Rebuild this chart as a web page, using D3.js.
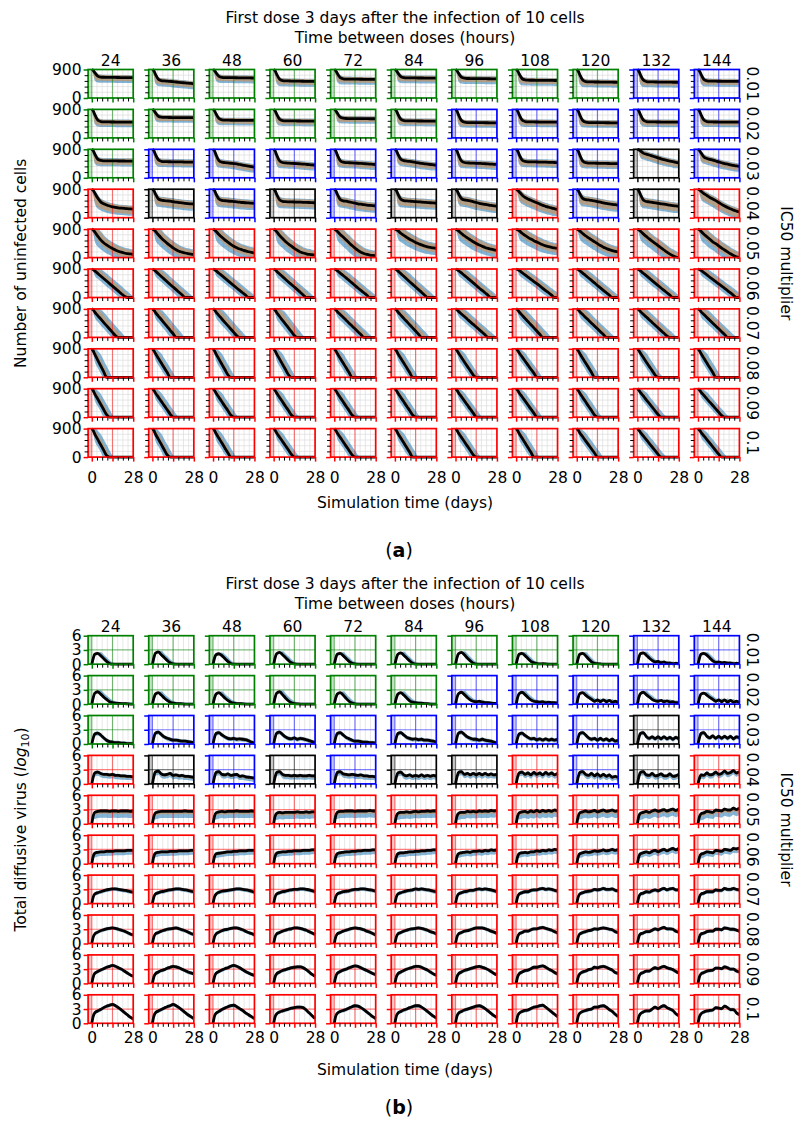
<!DOCTYPE html>
<html>
<head>
<meta charset="utf-8">
<script src="https://cdn.jsdelivr.net/npm/d3@7/dist/d3.min.js"></script>
<style>
  body { margin: 0; background: #fff; }
  svg { display: block; }
  text { font-family: "DejaVu Sans", sans-serif; fill: #000; }
</style>
</head>
<body>
<svg id="fig" width="796" height="1131"></svg>
<script>
// Sampling days of the ensemble summaries
const timeDays = [0, 1, 2, 4, 6, 8, 10, 12, 14, 16, 18, 20, 22, 24, 26, 28];

// Columns: time between doses (hours); rows: IC50 multiplier
const doseIntervals = ["24", "36", "48", "60", "72", "84", "96", "108", "120", "132", "144"];
const ic50Multipliers = ["0.01", "0.02", "0.03", "0.04", "0.05", "0.06", "0.07", "0.08", "0.09", "0.1"];

// Outcome class of each regimen (G cleared, B controlled, K uncertain, R failed)
const outcomeGrid = [
  "GGGGGGGGGBB",
  "GGGGGGBBBBB",
  "GBBBBBBBBKB",
  "RKBKBKKRBKR",
  "RRRRRRRRRRR",
  "RRRRRRRRRRR",
  "RRRRRRRRRRR",
  "RRRRRRRRRRR",
  "RRRRRRRRRRR",
  "RRRRRRRRRRR"
];
const outcomeColour = { G: "#008000", B: "#0000ff", K: "#000000", R: "#ff0000" };

// Mean number of uninfected cells at each sampling day, [IC50 row][dose column]
const uninfectedMean = [
  [
    [900,871,802,692,662,655,653,652,650,649,647,646,645,643,642,640],
    [900,857,756,594,551,540,532,524,516,505,495,486,477,468,459,450],
    [900,869,798,683,653,645,644,642,641,639,638,636,635,633,632,630],
    [900,857,756,594,551,540,538,536,534,532,530,529,527,526,524,522],
    [900,864,779,643,607,598,597,595,594,593,592,591,590,589,587,586],
    [900,868,794,676,644,636,635,634,633,632,631,630,629,628,627,626],
    [900,866,786,659,624,616,615,614,612,611,610,609,608,607,605,604],
    [900,859,765,613,572,562,561,560,559,558,557,556,555,554,553,552],
    [900,853,743,567,520,508,507,506,505,504,502,501,500,499,497,496],
    [900,852,740,565,520,508,507,506,504,503,502,501,500,498,497,496],
    [900,856,753,587,543,532,531,530,529,528,527,526,525,524,523,522]
  ],
  [
    [900,853,742,564,517,505,504,503,502,501,500,499,499,498,497,496],
    [900,870,798,684,654,646,645,644,643,642,642,641,640,640,639,638],
    [900,859,764,611,570,560,559,558,557,556,555,554,553,553,552,551],
    [900,857,755,592,548,538,537,536,535,534,533,532,531,530,529,528],
    [900,865,785,655,621,612,611,610,609,608,608,607,606,605,605,604],
    [900,857,755,592,548,538,537,536,535,534,533,532,531,530,529,528],
    [900,850,734,547,497,485,484,483,482,481,480,479,478,477,477,476],
    [900,853,742,564,517,505,504,503,502,501,500,499,499,498,497,496],
    [900,850,734,547,497,485,484,483,482,481,480,479,478,477,477,476],
    [900,853,742,564,517,505,504,503,502,501,500,499,499,498,497,496],
    [900,852,740,562,515,504,503,502,501,500,499,499,498,497,497,496]
  ],
  [
    [900,856,754,590,547,536,535,534,533,532,531,531,530,529,528,528],
    [900,854,744,569,522,510,508,507,505,503,501,500,498,497,495,494],
    [900,850,732,543,493,480,470,460,450,440,420,400,385,370,355,340],
    [900,848,728,534,483,470,464,458,452,446,440,432,424,416,408,400],
    [900,850,732,543,493,480,475,470,465,460,455,448,440,433,427,420],
    [900,856,752,585,541,530,515,500,485,470,455,443,431,420,410,400],
    [900,848,728,534,483,470,466,462,458,454,450,444,438,432,426,420],
    [900,853,742,564,517,505,503,501,499,497,495,492,489,486,483,480],
    [900,847,726,530,478,465,463,461,459,457,455,453,451,449,447,445],
    [900,885,850,780,745,720,690,660,630,600,575,550,530,510,490,470],
    [900,865,790,660,610,585,560,530,500,475,450,430,410,390,375,360]
  ],
  [
    [900,860,780,620,500,440,400,370,345,325,310,300,292,285,277,270],
    [900,857,756,594,552,540,530,520,505,490,478,466,455,446,438,430],
    [900,856,754,590,547,535,528,520,510,500,490,480,472,465,457,450],
    [900,853,742,564,517,505,502,499,496,493,490,487,484,480,475,470],
    [900,855,748,577,532,520,500,480,460,440,425,410,397,388,379,370],
    [900,856,752,585,541,530,522,514,507,500,493,486,479,472,466,460],
    [900,858,760,602,561,550,530,505,480,455,435,418,402,388,374,360],
    [900,870,820,720,640,590,550,510,470,430,390,360,330,305,282,260],
    [900,860,764,611,570,560,545,530,510,490,470,450,435,422,410,400],
    [900,852,740,560,512,500,485,470,455,440,425,410,395,382,370,360],
    [900,880,840,760,700,640,590,540,480,420,370,320,280,240,210,180]
  ],
  [
    [900,870,810,680,560,470,400,340,290,240,200,170,145,125,115,105],
    [900,875,830,720,620,530,450,380,310,250,200,170,145,125,110,100],
    [900,875,830,730,640,560,490,420,360,310,270,240,210,185,165,150],
    [900,870,820,700,600,510,430,360,290,230,180,145,120,100,90,80],
    [900,875,830,730,650,560,470,380,300,230,170,130,100,80,70,65],
    [900,880,850,770,700,640,580,530,480,440,400,370,340,320,305,290],
    [900,880,845,760,690,620,560,500,445,400,360,320,290,265,245,230],
    [900,880,850,770,700,640,585,535,490,445,405,370,345,320,305,290],
    [900,880,845,760,690,620,560,500,440,380,330,290,250,220,200,180],
    [900,880,840,750,670,590,520,450,380,310,240,170,110,60,20,0],
    [900,880,830,740,660,580,500,440,370,300,240,180,120,70,25,0]
  ],
  [
    [900,880,840,760,680,600,520,440,360,280,200,120,40,0,0,0],
    [900,878,835,750,665,580,495,410,330,250,165,85,0,0,0,0],
    [900,882,845,765,690,610,535,455,380,300,225,150,75,0,0,0],
    [900,878,832,745,660,575,490,410,330,250,165,80,0,0,0,0],
    [900,882,848,770,695,620,540,460,380,300,225,150,75,0,0,0],
    [900,880,840,755,670,585,500,415,330,250,165,80,0,0,0,0],
    [900,882,850,775,700,620,540,460,380,300,225,150,70,0,0,0],
    [900,885,855,785,715,645,575,505,435,365,290,220,150,75,0,0],
    [900,882,848,770,695,615,540,460,380,305,225,150,75,0,0,0],
    [900,882,845,765,690,610,535,455,380,300,225,150,75,0,0,0],
    [900,885,855,785,715,640,570,500,430,360,290,220,145,70,0,0]
  ],
  [
    [900,870,800,690,585,475,370,265,160,55,0,0,0,0,0,0],
    [900,865,790,675,565,450,340,225,115,0,0,0,0,0,0,0],
    [900,870,800,690,580,475,370,265,160,55,0,0,0,0,0,0],
    [900,860,785,660,540,420,300,180,60,0,0,0,0,0,0,0],
    [900,875,815,725,635,545,450,360,270,180,90,0,0,0,0,0],
    [900,872,805,705,600,500,400,300,200,100,0,0,0,0,0,0],
    [900,880,825,740,660,575,490,410,330,245,165,80,0,0,0,0],
    [900,872,805,705,600,500,400,300,200,100,0,0,0,0,0,0],
    [900,875,815,725,630,540,450,360,270,180,90,0,0,0,0,0],
    [900,878,820,730,645,560,470,385,300,215,130,45,0,0,0,0],
    [900,875,815,720,630,540,450,360,270,180,90,0,0,0,0,0]
  ],
  [
    [900,830,730,545,360,180,0,0,0,0,0,0,0,0,0,0],
    [900,840,755,600,450,300,150,0,0,0,0,0,0,0,0,0],
    [900,835,740,575,410,245,80,0,0,0,0,0,0,0,0,0],
    [900,835,740,575,410,245,80,0,0,0,0,0,0,0,0,0],
    [900,840,755,600,450,300,150,0,0,0,0,0,0,0,0,0],
    [900,840,750,600,450,300,150,0,0,0,0,0,0,0,0,0],
    [900,845,765,625,485,345,210,70,0,0,0,0,0,0,0,0],
    [900,850,775,645,515,385,255,130,0,0,0,0,0,0,0,0],
    [900,840,755,600,450,300,150,0,0,0,0,0,0,0,0,0],
    [900,845,765,625,485,345,210,70,0,0,0,0,0,0,0,0],
    [900,840,755,600,450,300,150,0,0,0,0,0,0,0,0,0]
  ],
  [
    [900,835,740,575,410,245,80,0,0,0,0,0,0,0,0,0],
    [900,848,768,635,500,365,235,100,0,0,0,0,0,0,0,0],
    [900,845,765,625,485,345,210,70,0,0,0,0,0,0,0,0],
    [900,845,765,625,485,345,210,70,0,0,0,0,0,0,0,0],
    [900,845,765,625,485,345,210,70,0,0,0,0,0,0,0,0],
    [900,845,765,625,485,345,210,70,0,0,0,0,0,0,0,0],
    [900,850,775,645,515,385,255,130,0,0,0,0,0,0,0,0],
    [900,850,775,645,515,385,255,130,0,0,0,0,0,0,0,0],
    [900,845,765,625,485,345,210,70,0,0,0,0,0,0,0,0],
    [900,855,785,670,550,435,320,200,85,0,0,0,0,0,0,0],
    [900,860,795,690,580,475,370,265,160,55,0,0,0,0,0,0]
  ],
  [
    [900,835,730,560,390,220,50,0,0,0,0,0,0,0,0,0],
    [900,838,735,567,400,233,67,0,0,0,0,0,0,0,0,0],
    [900,842,747,595,442,290,137,0,0,0,0,0,0,0,0,0],
    [900,848,765,629,494,359,223,88,0,0,0,0,0,0,0,0],
    [900,845,762,623,485,346,208,69,0,0,0,0,0,0,0,0],
    [900,840,750,600,450,300,150,0,0,0,0,0,0,0,0,0],
    [900,845,762,623,485,346,208,69,0,0,0,0,0,0,0,0],
    [900,840,750,600,450,300,150,0,0,0,0,0,0,0,0,0],
    [900,850,771,643,514,386,257,129,0,0,0,0,0,0,0,0],
    [900,855,784,668,552,435,319,203,87,0,0,0,0,0,0,0],
    [900,856,785,669,554,438,323,208,92,0,0,0,0,0,0,0]
  ]
];

// Mean total diffusive virus (log10) at each sampling day, [IC50 row][dose column]
const virusLogMean = [
  [
    [0,1.3,2.1,2.3,1.8,1.2,0.6,0.15,0,0,0,0,0,0,0,0],
    [0,1.4,2.3,2.6,2.0,1.4,0.8,0.3,0.05,0,0,0,0,0,0,0],
    [0,1.3,2.0,2.2,1.8,1.2,0.6,0.15,0,0,0,0,0,0,0,0],
    [0,1.4,2.2,2.5,2.0,1.4,0.8,0.3,0.05,0,0,0,0,0,0,0],
    [0,1.3,2.1,2.3,1.8,1.2,0.6,0.2,0.05,0,0,0,0,0,0,0],
    [0,1.3,2.1,2.4,1.9,1.3,0.7,0.2,0,0,0,0,0,0,0,0],
    [0,1.4,2.2,2.5,2.0,1.3,0.7,0.2,0,0,0,0,0,0,0,0],
    [0,1.3,2.1,2.3,1.8,1.2,0.6,0.3,0.1,0.05,0.1,0.05,0,0,0,0],
    [0,1.3,2.1,2.3,1.8,1.1,0.5,0.2,0.1,0.05,0,0,0,0,0,0],
    [0,1.4,2.2,2.4,1.9,1.3,0.8,0.5,0.6,0.3,0.5,0.2,0.3,0.1,0.2,0.05],
    [0,1.3,2.1,2.3,1.9,1.3,0.7,0.4,0.5,0.3,0.4,0.2,0.3,0.1,0.2,0.1]
  ],
  [
    [0,1.4,2.3,2.6,2.1,1.5,1.0,0.5,0.3,0.2,0.15,0.1,0.1,0.05,0,0],
    [0,1.3,2.1,2.4,1.9,1.3,0.8,0.4,0.2,0.1,0.1,0.05,0,0,0,0],
    [0,1.3,2.1,2.4,1.9,1.3,0.8,0.4,0.2,0.1,0.1,0.05,0,0,0,0],
    [0,1.4,2.3,2.6,2.0,1.3,0.7,0.3,0.1,0.05,0,0,0,0,0,0],
    [0,1.3,2.1,2.4,1.9,1.2,0.6,0.2,0.05,0,0,0,0,0,0,0],
    [0,1.3,2.1,2.4,1.9,1.3,0.7,0.4,0.3,0.2,0.2,0.1,0.1,0,0,0],
    [0,1.4,2.2,2.5,2.0,1.4,0.9,0.6,0.5,0.6,0.4,0.3,0.3,0.2,0.15,0.1],
    [0,1.4,2.2,2.5,2.0,1.4,0.9,0.6,0.5,0.4,0.5,0.3,0.4,0.3,0.3,0.2],
    [0,1.4,2.2,2.4,1.9,1.4,1.0,0.6,0.9,0.5,0.9,0.5,0.8,0.4,0.6,0.3],
    [0,1.4,2.2,2.5,2.0,1.5,1.0,0.7,0.6,0.8,0.5,0.7,0.4,0.5,0.3,0.3],
    [0,1.3,2.1,2.3,1.9,1.4,1.0,0.6,0.9,0.5,0.9,0.4,0.8,0.4,0.6,0.3]
  ],
  [
    [0,1.3,2.1,2.3,1.9,1.3,0.8,0.5,0.4,0.3,0.3,0.2,0.2,0.1,0.1,0.05],
    [0,1.4,2.3,2.5,2.0,1.5,1.2,1.0,0.8,0.8,0.7,0.6,0.6,0.5,0.4,0.3],
    [0,1.4,2.2,2.4,1.9,1.5,1.2,1.1,1.2,1.0,1.1,1.0,0.9,0.7,0.4,0.2],
    [0,1.4,2.3,2.5,2.0,1.5,1.2,1.1,1.3,1.0,1.2,1.1,0.9,0.7,0.5,0.3],
    [0,1.4,2.2,2.4,1.9,1.4,1.1,0.8,0.6,0.6,0.5,0.4,0.4,0.3,0.3,0.2],
    [0,1.4,2.2,2.4,1.9,1.4,1.2,1.0,1.1,0.9,1.0,0.8,0.8,0.7,0.6,0.4],
    [0,1.4,2.3,2.5,2.0,1.5,1.2,1.0,1.0,0.8,1.0,0.8,0.7,0.6,0.4,0.2],
    [0,1.3,2.1,2.3,1.8,1.4,1.1,1.2,0.9,1.1,0.8,1.1,0.8,1.0,0.8,1.0],
    [0,1.4,2.2,2.4,1.9,1.3,1.0,1.2,0.8,1.2,0.8,1.1,0.7,1.0,0.6,0.8],
    [0,1.3,2.2,2.4,1.6,1.2,1.5,1.1,1.5,1.1,1.5,1.1,1.4,1.0,1.4,1.1],
    [0,1.3,2.2,2.4,1.6,1.3,1.7,1.2,1.6,1.2,1.6,1.2,1.6,1.1,1.5,1.3]
  ],
  [
    [0,1.5,2.3,2.5,2.2,2.0,2.0,1.9,2.0,1.8,1.8,1.7,1.7,1.6,1.6,1.5],
    [0,1.6,2.5,2.7,2.1,1.9,2.0,2.2,1.8,1.9,1.7,1.8,1.6,1.6,1.5,1.4],
    [0,1.5,2.4,2.6,2.0,1.9,2.1,1.8,1.9,2.0,1.6,1.7,1.5,1.4,1.3,1.2],
    [0,1.5,2.4,2.6,2.0,1.8,1.8,1.7,1.8,1.7,1.8,1.7,1.7,1.8,1.7,1.7],
    [0,1.5,2.4,2.6,2.1,2.0,1.9,2.0,1.9,1.8,1.9,1.7,1.7,1.6,1.6,1.5],
    [0,1.5,2.3,2.5,1.9,1.7,1.9,1.6,1.8,1.6,1.9,1.6,1.8,1.6,1.8,1.6],
    [0,1.5,2.4,2.6,2.0,2.2,1.9,2.2,1.9,2.2,1.9,2.2,1.9,2.1,1.9,2.0],
    [0,1.5,2.3,2.5,2.0,2.3,1.9,2.4,2.0,2.3,1.9,2.4,2.0,2.3,1.9,2.2],
    [0,1.5,2.4,2.6,2.0,1.8,2.2,1.7,2.1,1.6,2.0,1.6,1.9,1.4,1.6,1.3],
    [0,1.5,2.4,2.6,1.9,1.8,2.2,1.7,1.8,2.1,1.7,1.7,2.1,1.6,1.7,2.0],
    [0,1.2,1.9,1.8,2.3,1.9,2.0,2.5,2.0,2.2,2.7,2.2,2.4,2.8,2.3,2.6]
  ],
  [
    [0,1.7,2.4,2.6,2.7,2.7,2.7,2.6,2.7,2.7,2.6,2.7,2.7,2.7,2.6,2.7],
    [0,1.6,2.3,2.5,2.6,2.6,2.6,2.6,2.6,2.6,2.6,2.6,2.7,2.6,2.6,2.6],
    [0,1.6,2.3,2.5,2.6,2.5,2.6,2.6,2.6,2.7,2.6,2.6,2.6,2.6,2.7,2.6],
    [0,1.6,2.2,2.4,2.3,2.4,2.4,2.4,2.4,2.5,2.4,2.4,2.5,2.4,2.5,2.5],
    [0,1.7,2.4,2.6,2.6,2.7,2.7,2.7,2.6,2.7,2.7,2.7,2.7,2.8,2.7,2.7],
    [0,1.6,2.2,2.4,2.4,2.5,2.4,2.5,2.6,2.5,2.6,2.6,2.7,2.6,2.7,2.7],
    [0,1.6,2.2,2.4,2.4,2.6,2.5,2.6,2.5,2.7,2.6,2.7,2.6,2.8,2.7,2.8],
    [0,1.6,2.3,2.5,2.6,2.4,2.7,2.5,2.8,2.5,2.8,2.6,2.8,2.6,2.9,2.7],
    [0,1.6,2.3,2.5,2.7,2.5,2.6,2.8,2.5,2.7,2.9,2.6,2.7,2.9,2.6,2.8],
    [0,1.6,2.2,2.4,2.6,2.4,2.7,2.9,2.6,2.8,3.0,2.7,2.9,3.1,2.8,3.1],
    [0,1.5,2.1,2.3,2.6,2.5,2.4,2.9,2.8,2.7,3.1,2.9,2.9,3.3,3.0,3.3]
  ],
  [
    [0,1.6,2.2,2.4,2.5,2.5,2.6,2.6,2.6,2.7,2.7,2.7,2.7,2.8,2.8,2.8],
    [0,1.6,2.2,2.4,2.5,2.5,2.5,2.6,2.6,2.6,2.7,2.7,2.7,2.7,2.8,2.8],
    [0,1.5,2.1,2.2,2.3,2.4,2.5,2.5,2.6,2.6,2.7,2.7,2.7,2.8,2.8,2.8],
    [0,1.6,2.2,2.4,2.5,2.5,2.6,2.6,2.7,2.7,2.7,2.8,2.8,2.8,2.9,2.9],
    [0,1.5,2.1,2.3,2.4,2.5,2.5,2.6,2.6,2.7,2.7,2.8,2.8,2.8,2.9,2.9],
    [0,1.5,2.1,2.3,2.3,2.4,2.5,2.5,2.6,2.6,2.7,2.7,2.8,2.8,2.9,2.9],
    [0,1.5,2.1,2.3,2.4,2.5,2.4,2.6,2.6,2.7,2.6,2.8,2.7,2.9,2.8,2.9],
    [0,1.5,2.1,2.3,2.4,2.3,2.5,2.5,2.7,2.6,2.8,2.7,2.9,2.8,3.0,2.9],
    [0,1.5,2.1,2.3,2.5,2.4,2.5,2.7,2.6,2.7,2.9,2.7,2.8,3.0,2.8,3.0],
    [0,1.5,2.1,2.3,2.5,2.3,2.6,2.8,2.5,2.8,3.0,2.7,3.0,3.2,2.9,3.2],
    [0,1.4,2.0,2.2,2.5,2.4,2.3,2.8,2.7,2.6,3.0,2.9,2.8,3.2,3.1,3.3]
  ],
  [
    [0,1.4,2.0,2.3,2.5,2.7,2.9,3.0,3.1,3.1,3.0,2.9,2.8,2.7,2.5,2.4],
    [0,1.4,2.0,2.3,2.5,2.6,2.8,2.9,3.0,3.1,3.1,3.0,2.9,2.8,2.6,2.5],
    [0,1.4,2.0,2.4,2.6,2.7,2.8,2.9,3.0,3.1,3.1,3.0,2.9,2.8,2.6,2.4],
    [0,1.4,2.0,2.3,2.5,2.6,2.8,2.9,3.0,3.0,3.1,3.1,3.0,2.9,2.7,2.5],
    [0,1.4,2.0,2.3,2.5,2.6,2.7,2.9,3.0,3.0,3.1,3.1,3.0,2.9,2.8,2.6],
    [0,1.4,2.0,2.3,2.5,2.7,2.8,2.9,3.1,3.0,3.1,3.0,2.9,2.8,2.6,2.5],
    [0,1.4,2.0,2.3,2.5,2.6,2.8,2.8,3.0,3.1,3.0,3.1,3.0,2.9,2.7,2.5],
    [0,1.4,2.0,2.3,2.5,2.5,2.8,2.9,2.9,3.1,3.2,3.0,3.1,3.0,2.8,2.6],
    [0,1.4,2.0,2.3,2.5,2.6,2.7,3.0,2.9,3.0,3.2,3.0,3.0,3.1,2.8,2.7],
    [0,1.4,2.0,2.2,2.5,2.4,2.7,2.9,2.7,3.0,3.2,2.9,3.1,3.2,2.9,2.9],
    [0,1.4,2.0,2.2,2.5,2.5,2.5,2.9,2.8,2.8,3.2,3.0,3.0,3.2,3.0,2.9]
  ],
  [
    [0,1.4,2.0,2.4,2.7,2.9,3.1,3.2,3.3,3.2,3.0,2.8,2.6,2.3,2.0,1.8],
    [0,1.4,2.0,2.3,2.6,2.8,3.0,3.1,3.2,3.3,3.1,2.9,2.7,2.4,2.1,1.9],
    [0,1.4,2.0,2.4,2.7,2.9,3.0,3.2,3.3,3.3,3.1,2.9,2.6,2.3,2.1,1.8],
    [0,1.4,2.0,2.3,2.6,2.8,3.0,3.1,3.3,3.3,3.2,3.0,2.8,2.5,2.2,1.9],
    [0,1.4,2.0,2.3,2.6,2.8,3.0,3.2,3.3,3.2,3.1,2.9,2.6,2.4,2.1,1.8],
    [0,1.4,2.0,2.3,2.6,2.8,3.0,3.1,3.2,3.3,3.2,3.0,2.8,2.5,2.3,2.0],
    [0,1.4,2.0,2.3,2.6,2.7,2.9,3.1,3.3,3.3,3.3,3.1,2.9,2.6,2.4,2.1],
    [0,1.4,2.0,2.3,2.6,2.6,2.9,3.1,3.1,3.3,3.4,3.2,3.0,2.8,2.5,2.2],
    [0,1.4,2.0,2.3,2.5,2.7,2.8,3.1,3.0,3.2,3.3,3.2,3.0,2.9,2.5,2.3],
    [0,1.4,2.0,2.2,2.5,2.5,2.8,3.1,2.9,3.2,3.4,3.1,3.1,3.0,2.6,2.4],
    [0,1.4,2.0,2.2,2.5,2.6,2.6,3.0,3.0,2.9,3.3,3.2,3.0,3.0,2.8,2.6]
  ],
  [
    [0,1.4,2.1,2.5,2.8,3.1,3.4,3.6,3.8,3.6,3.3,3.0,2.6,2.2,1.8,1.5],
    [0,1.4,2.0,2.4,2.7,2.9,3.2,3.4,3.6,3.5,3.3,3.0,2.7,2.4,2.2,2.0],
    [0,1.4,2.1,2.5,2.8,3.1,3.3,3.6,3.8,3.6,3.3,2.9,2.5,2.2,1.9,1.7],
    [0,1.4,2.0,2.4,2.7,2.9,3.1,3.3,3.4,3.5,3.5,3.3,2.9,2.4,1.9,1.5],
    [0,1.4,2.1,2.5,2.8,3.0,3.3,3.5,3.7,3.6,3.3,3.0,2.7,2.4,2.1,1.8],
    [0,1.4,2.0,2.4,2.7,3.0,3.2,3.4,3.6,3.6,3.4,3.1,2.8,2.4,2.0,1.7],
    [0,1.4,2.0,2.4,2.7,2.9,3.1,3.3,3.5,3.6,3.4,3.2,2.9,2.5,2.1,1.8],
    [0,1.4,2.0,2.4,2.7,2.8,3.1,3.4,3.4,3.6,3.7,3.4,3.0,2.7,2.3,2.0],
    [0,1.4,2.0,2.4,2.6,2.9,3.0,3.4,3.3,3.5,3.6,3.4,3.1,2.8,2.3,2.1],
    [0,1.4,2.0,2.3,2.6,2.6,3.0,3.3,3.1,3.4,3.6,3.3,3.1,2.9,2.5,2.2],
    [0,1.4,2.0,2.3,2.6,2.7,2.8,3.2,3.2,3.1,3.5,3.3,3.0,3.0,2.6,2.4]
  ],
  [
    [0,1.5,2.2,2.6,2.9,3.3,3.6,3.8,4.0,3.7,3.3,2.8,2.3,1.8,1.3,0.9],
    [0,1.5,2.2,2.6,2.9,3.2,3.5,3.7,4.0,3.7,3.3,2.8,2.3,1.8,1.4,1.0],
    [0,1.5,2.1,2.5,2.9,3.2,3.5,3.7,3.8,3.5,3.1,2.7,2.2,1.8,1.4,1.0],
    [0,1.4,2.0,2.4,2.6,2.8,3.0,3.2,3.3,3.4,3.4,3.3,2.8,2.2,1.6,1.0],
    [0,1.5,2.1,2.5,2.7,2.9,3.2,3.5,3.7,3.6,3.3,2.9,2.4,1.9,1.4,1.0],
    [0,1.5,2.1,2.5,2.8,3.0,3.3,3.5,3.7,3.7,3.4,3.0,2.5,2.0,1.5,1.1],
    [0,1.5,2.1,2.5,2.8,3.0,3.2,3.4,3.6,3.7,3.5,3.1,2.6,2.1,1.6,1.2],
    [0,1.5,2.1,2.5,2.7,2.8,3.1,3.4,3.5,3.7,3.8,3.4,2.9,2.4,1.9,1.4],
    [0,1.5,2.1,2.5,2.7,2.9,3.0,3.4,3.4,3.6,3.7,3.4,2.9,2.5,1.9,1.4],
    [0,1.4,2.0,2.4,2.6,2.6,3.0,3.4,3.1,3.5,3.7,3.3,3.0,2.7,2.0,1.6],
    [0,1.4,2.0,2.4,2.6,2.7,2.8,3.3,3.2,3.1,3.6,3.3,2.9,2.9,2.2,1.8]
  ]
];

// How far the ensemble spread has opened at each sampling day
const spreadRampCells = [0, 0.4, 0.8, 1, 1, 1, 1, 1, 1, 1, 1, 1, 1, 1, 1, 1];
const spreadRampVirus = [0, 0.5, 1, 1, 1, 1, 1, 1, 1, 1, 1, 1, 1, 1, 1, 1];

// Ensemble ranges per IC50 row: [samples lagging, samples leading, extent above, extent below]
const cellsBlueSpread = [
  [0,1,80,170],[0,1,80,160],[0,1,90,170],[0,1,110,210],[1,1,150,210],
  [3,1,0,90],[3,1,0,90],[2,1,0,60],[2,1,0,60],[2,1,0,60]
];
const cellsOrangeSpread = [
  [0,1,70,110],[0,1,70,110],[0,1,70,120],[0,1,90,150],[1,0,110,130],
  [2,0,0,50],[2,0,0,50],[1,0,0,30],[1,0,0,30],[1,0,0,30]
];
const virusBlueSpread = [
  [1,0,0.25,0.35],[1,0,0.3,0.35],[0,0,0.4,0.5],[0,0,0.35,0.8],[0,0,0.35,1.4],
  [0,0,0.35,0.9],[0,0,0.35,0.45],[0,0,0.35,0.4],[0,0,0.35,0.4],[0,0,0.35,0.4]
];
const virusOrangeSpread = [
  [0,0,0.25,0.3],[0,0,0.25,0.3],[0,0,0.3,0.3],[0,0,0.25,0.4],[0,0,0.3,0.6],
  [0,0,0.25,0.35],[0,0,0.25,0.25],[0,0,0.25,0.25],[0,0,0.25,0.25],[0,0,0.25,0.25]
];

// ---- layout ----
const svg = d3.select("#fig");
const COL_STEP = 60.62, ZERO_X = 91.8, PX_PER_DAY = 1.479, X_START = -2.5;
const PANEL_H = 28.5, ROW_STEP = 39.9;
const minorDays = [3.5, 7, 10.5, 17.5, 21, 24.5];
const gridDays = [3.5, 7, 10.5, 14, 17.5, 21, 24.5];
const FONT = 15.5;

function bounds(mean, spec, ramp, yMax) {
  const [lag, lead, above, below] = spec;
  const n = mean.length;
  return timeDays.map((t, i) => ({
    t,
    hi: Math.min(yMax, mean[Math.max(0, i - lag)] + above * ramp[i]),
    lo: Math.max(0, mean[Math.min(n - 1, i + lead)] - below * ramp[i])
  }));
}

function styleAxis(sel, colour, width) {
  sel.select(".domain").remove();
  sel.selectAll(".tick line").attr("stroke", colour).attr("stroke-width", width);
  sel.attr("font-size", FONT).attr("font-family", "DejaVu Sans");
  sel.selectAll(".tick text").attr("fill", "#000");
}

function drawChart(cfg) {
  const root = svg.append("g");
  const nRows = ic50Multipliers.length;
  const gridTop = cfg.top, gridBottom = cfg.top + (nRows - 1) * ROW_STEP + PANEL_H;
  const midY = (gridTop + gridBottom) / 2;
  const centreX = 405;

  ic50Multipliers.forEach((ic, r) => {
    const top = cfg.top + r * ROW_STEP, bottom = top + PANEL_H;
    const y = d3.scaleLinear().domain([0, cfg.yMax]).range([bottom, top]);

    doseIntervals.forEach((dose, c) => {
      const zx = ZERO_X + c * COL_STEP;
      const x = d3.scaleLinear().domain([X_START, 28])
        .range([zx + X_START * PX_PER_DAY, zx + 28 * PX_PER_DAY]);
      const colour = outcomeColour[outcomeGrid[r][c]];
      const mean = cfg.mean[r][c];
      const g = root.append("g");
      const clipId = `clip-${cfg.key}-${r}-${c}`;
      const x0 = x(X_START), x1 = x(28);

      g.append("clipPath").attr("id", clipId).append("rect")
        .attr("x", x0).attr("y", top).attr("width", x1 - x0).attr("height", PANEL_H);
      g.append("rect").attr("x", x0).attr("y", top).attr("width", x1 - x0)
        .attr("height", PANEL_H).attr("fill", "#fff");

      // light grid
      g.selectAll(".vg").data(gridDays).join("line")
        .attr("x1", d => x(d)).attr("x2", d => x(d)).attr("y1", top).attr("y2", bottom)
        .attr("stroke", "#dcdcdc").attr("stroke-width", 0.7);
      g.selectAll(".hg").data(cfg.yGrid).join("line")
        .attr("x1", x0).attr("x2", x1).attr("y1", d => y(d)).attr("y2", d => y(d))
        .attr("stroke", "#dcdcdc").attr("stroke-width", 0.7);

      // pre-treatment stripe
      g.append("rect").attr("x", x0).attr("y", top).attr("width", x(0) - x0)
        .attr("height", PANEL_H).attr("fill", colour).attr("opacity", 0.22);

      const area = d3.area().x(d => x(d.t)).y0(d => y(d.lo)).y1(d => y(d.hi))
        .curve(d3.curveMonotoneX);
      const bands = g.append("g").attr("clip-path", `url(#${clipId})`);
      bands.append("path").attr("d", area(bounds(mean, cfg.blue[r], cfg.ramp, cfg.yMax)))
        .attr("fill", "#1f77b4").attr("opacity", 0.55);
      bands.append("path").attr("d", area(bounds(mean, cfg.orange[r], cfg.ramp, cfg.yMax)))
        .attr("fill", "#ff7f0e").attr("opacity", 0.4);
      bands.append("path").attr("d", area(bounds(mean, [0, 0, cfg.grey, cfg.grey], cfg.ramp, cfg.yMax)))
        .attr("fill", "#7f7f7f").attr("opacity", 0.35);

      // reference lines in the outcome colour
      g.append("line").attr("x1", x(0)).attr("x2", x(0)).attr("y1", top).attr("y2", bottom)
        .attr("stroke", colour).attr("stroke-width", 1.2).attr("opacity", 0.5);
      g.append("line").attr("x1", x(14)).attr("x2", x(14)).attr("y1", top).attr("y2", bottom)
        .attr("stroke", colour).attr("stroke-width", 1.2).attr("opacity", 0.5);
      if (cfg.hLine !== null) {
        g.append("line").attr("x1", x0).attr("x2", x1).attr("y1", y(cfg.hLine)).attr("y2", y(cfg.hLine))
          .attr("stroke", colour).attr("stroke-width", 1.2).attr("opacity", 0.5);
      }

      // ensemble mean
      const line = d3.line().x((d, i) => x(timeDays[i])).y(d => y(d)).curve(d3.curveMonotoneX);
      g.append("path").attr("d", line(mean)).attr("fill", "none")
        .attr("stroke", "#000").attr("stroke-width", 2.8).attr("stroke-linejoin", "round");

      // frame
      g.append("rect").attr("x", x0).attr("y", top).attr("width", x1 - x0).attr("height", PANEL_H)
        .attr("fill", "none").attr("stroke", colour).attr("stroke-width", 1.7);

      // axes
      const isBottom = r === nRows - 1, isLeft = c === 0;
      g.append("g").attr("transform", `translate(0,${bottom})`)
        .call(d3.axisBottom(x).tickValues(minorDays).tickSize(3.5).tickFormat(""))
        .call(s => styleAxis(s, "#000", 1));
      g.append("g").attr("transform", `translate(0,${bottom})`)
        .call(d3.axisBottom(x).tickValues([0, 14, 28]).tickSize(4.5).tickPadding(cfg.xPad)
          .tickFormat(d => (isBottom && d !== 14) ? d3.format("d")(d) : ""))
        .call(s => styleAxis(s, colour, 1.5));
      if (cfg.yMinor.length) {
        g.append("g").attr("transform", `translate(${x0},0)`)
          .call(d3.axisLeft(y).tickValues(cfg.yMinor).tickSize(3.5).tickFormat(""))
          .call(s => styleAxis(s, "#000", 1));
      }
      g.append("g").attr("transform", `translate(${x0},0)`)
        .call(d3.axisLeft(y).tickValues(cfg.yMajor).tickSize(4.5).tickPadding(2)
          .tickFormat(d => isLeft ? d3.format("d")(d) : ""))
        .call(s => styleAxis(s, colour, 1.5));

      if (r === 0) {
        root.append("text").attr("x", (x0 + x1) / 2).attr("y", cfg.colLabelY)
          .attr("text-anchor", "middle").attr("font-size", FONT).text(dose);
      }
    });

    root.append("text")
      .attr("transform", `translate(752,${top + PANEL_H / 2}) rotate(90)`)
      .attr("text-anchor", "middle").attr("dominant-baseline", "central")
      .attr("font-size", FONT).text(ic);
  });

  root.append("text").attr("x", centreX).attr("y", cfg.titleY[0]).attr("text-anchor", "middle")
    .attr("font-size", FONT).text("First dose 3 days after the infection of 10 cells");
  root.append("text").attr("x", centreX).attr("y", cfg.titleY[1]).attr("text-anchor", "middle")
    .attr("font-size", FONT).text("Time between doses (hours)");
  root.append("text").attr("x", centreX).attr("y", cfg.xTitleY).attr("text-anchor", "middle")
    .attr("font-size", FONT).text("Simulation time (days)");
  root.append("text").attr("transform", `translate(786,${midY}) rotate(90)`)
    .attr("text-anchor", "middle").attr("dominant-baseline", "central")
    .attr("font-size", FONT).text("IC50 multiplier");

  const yl = root.append("text").attr("transform", `translate(21,${midY}) rotate(-90)`)
    .attr("text-anchor", "middle").attr("dominant-baseline", "central").attr("font-size", FONT);
  cfg.yTitle(yl);

  const cap = root.append("text").attr("x", 399).attr("y", cfg.captionY).attr("text-anchor", "middle")
    .attr("font-family", "Liberation Serif").attr("font-size", 19);
  cap.append("tspan").text("(");
  cap.append("tspan").attr("font-weight", "bold").text(cfg.caption);
  cap.append("tspan").text(")");
}

drawChart({
  key: "cells", top: 69.5, yMax: 900, yMajor: [0, 900], yMinor: [180, 360, 540, 720],
  yGrid: [180, 360, 540, 720], hLine: null,
  mean: uninfectedMean, blue: cellsBlueSpread, orange: cellsOrangeSpread,
  ramp: spreadRampCells, grey: 18,
  titleY: [23, 43], colLabelY: 65.5, xPad: 10, xTitleY: 508, captionY: 557, caption: "a",
  yTitle: t => t.text("Number of uninfected cells")
});

drawChart({
  key: "virus", top: 635.7, yMax: 6, yMajor: [0, 3, 6], yMinor: [],
  yGrid: [], hLine: 3,
  mean: virusLogMean, blue: virusBlueSpread, orange: virusOrangeSpread,
  ramp: spreadRampVirus, grey: 0.12,
  titleY: [589, 609], colLabelY: 631.5, xPad: 4, xTitleY: 1075, captionY: 1114, caption: "b",
  yTitle: t => {
    t.append("tspan").text("Total diffusive virus (");
    t.append("tspan").attr("font-style", "italic").text("log");
    t.append("tspan").attr("font-size", 11).attr("dy", 4).text("10");
    t.append("tspan").attr("dy", -4).text(")");
  }
});
</script>
</body>
</html>
